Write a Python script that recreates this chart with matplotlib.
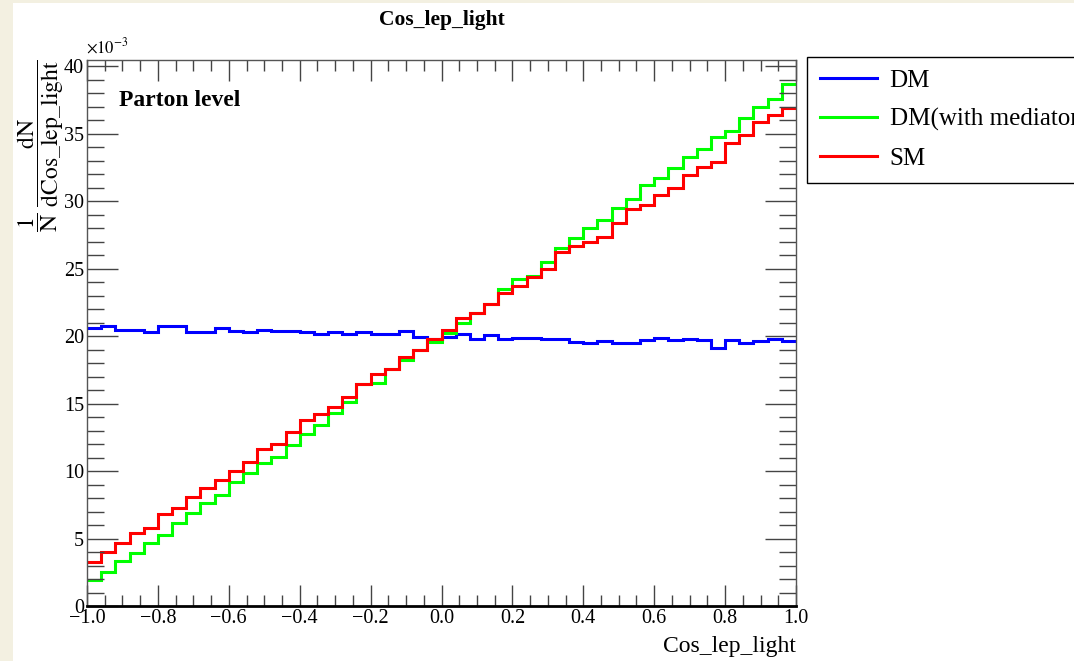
import matplotlib
matplotlib.use("Agg")
import matplotlib.pyplot as plt
from matplotlib.patches import Rectangle
from matplotlib.ticker import MultipleLocator, FuncFormatter
import numpy as np

# bin contents, in units of 1e-3 (50 bins over -1..1)
edges = np.linspace(-1.0, 1.0, 51)

dm = [20.57, 20.74, 20.44, 20.44, 20.30, 20.74, 20.74, 20.30, 20.30, 20.57,
      20.35, 20.30, 20.42, 20.37, 20.37, 20.32, 20.12, 20.32, 20.12, 20.30,
      20.12, 20.17, 20.40, 19.90, 19.75, 19.90, 20.12, 19.75, 20.07, 19.75,
      19.88, 19.88, 19.75, 19.80, 19.58, 19.46, 19.65, 19.46, 19.51, 19.70,
      19.83, 19.70, 19.75, 19.70, 19.14, 19.70, 19.46, 19.65, 19.75, 19.65]

dm_med = [1.93, 2.54, 3.36, 3.95, 4.64, 5.26, 6.17, 6.91, 7.60, 8.22,
          9.21, 9.88, 10.60, 11.06, 11.93, 12.74, 13.41, 14.27, 15.14, 16.42,
          16.49, 17.53, 18.22, 18.96, 19.55, 20.20, 21.00, 21.73, 22.35, 23.46,
          24.20, 24.45, 25.50, 26.50, 27.25, 27.98, 28.60, 29.46, 30.12, 31.19,
          31.68, 32.42, 33.28, 33.83, 34.77, 35.21, 36.12, 36.99, 37.53, 38.67]

sm = [3.28, 4.02, 4.64, 5.43, 5.80, 6.79, 7.23, 8.10, 8.72, 9.33,
      10.00, 10.64, 11.64, 11.98, 12.91, 13.78, 14.20, 14.77, 15.51, 16.42,
      17.16, 17.53, 18.42, 18.96, 19.75, 20.44, 21.31, 21.73, 22.35, 23.16,
      23.70, 24.40, 24.94, 26.25, 26.67, 26.99, 27.36, 28.35, 29.38, 29.70,
      30.44, 30.99, 31.93, 32.49, 32.91, 34.32, 34.89, 35.88, 36.37, 36.91]

labels = ["DM", "DM(with mediator)", "SM"]
colors = ["#0000ff", "#00ff00", "#ff0000"]

plt.rcParams["font.family"] = ["Liberation Serif", "DejaVu Serif"]
plt.rcParams["mathtext.fontset"] = "stix"

W, H = 1074, 661
fig = plt.figure(figsize=(W / 100, H / 100), dpi=100, facecolor="#f3f0e1")
fig.patches.append(Rectangle((13 / W, 0), 1, 1 - 3 / H, transform=fig.transFigure,
                             facecolor="white", edgecolor="none", zorder=-10))

ax = fig.add_axes([87 / W, 1 - 606 / H, (796 - 87) / W, (606 - 60) / H])

for vals, lab, col in zip([dm, dm_med, sm], labels, colors):
    ax.stairs(vals, edges, baseline=None, color=col, lw=2.2, label=lab)

ax.set_xlim(-1, 1)
ax.set_ylim(0, 40.45)
ax.xaxis.set_major_locator(MultipleLocator(0.2))
ax.xaxis.set_minor_locator(MultipleLocator(0.05))
ax.yaxis.set_major_locator(MultipleLocator(5))
ax.yaxis.set_minor_locator(MultipleLocator(1))
ax.xaxis.set_major_formatter(FuncFormatter(lambda v, p: f"{v:.1f}".replace("-", "\u2212")))
ax.tick_params(which="both", direction="in", top=True, right=True,
               color="#444444", width=1, labelsize=14.5)
ax.tick_params(axis="x", which="major", length=15, pad=2)
ax.tick_params(axis="x", which="minor", length=8)
ax.tick_params(axis="y", which="major", length=22, pad=2)
ax.tick_params(axis="y", which="minor", length=12)
for s in ax.spines.values():
    s.set_color("#555555")
    s.set_linewidth(1)
ax.spines["bottom"].set_color("black")
ax.spines["bottom"].set_linewidth(2)

ax.set_title("Cos_lep_light", fontsize=15.5, fontweight="bold", pad=25)
ax.set_xlabel("Cos_lep_light", fontsize=17, loc="right", labelpad=6)
ax.set_ylabel(r"$\dfrac{1}{\mathrm{N}}\ \dfrac{\mathrm{dN}}{\mathrm{dCos\_lep\_light}}$",
              fontsize=17, loc="top")
ax.yaxis.set_label_coords(-0.029, 1.0)
ax.text(0.045, 0.945, "Parton level", transform=ax.transAxes, fontsize=17,
        fontweight="bold", va="top")
fig.text(86 / W, 1 - 47 / H, r"$\times10^{-3}$", fontsize=12, va="center")

ax.legend(loc="upper left", bbox_to_anchor=(807 / W, 1 - 57 / H),
          bbox_transform=fig.transFigure, fontsize=18, frameon=True,
          fancybox=False, edgecolor="black", framealpha=1,
          handlelength=2.3, handletextpad=0.5, labelspacing=0.65,
          borderpad=0.5, borderaxespad=0)

fig.savefig("out.png", dpi=100, facecolor=fig.get_facecolor())
